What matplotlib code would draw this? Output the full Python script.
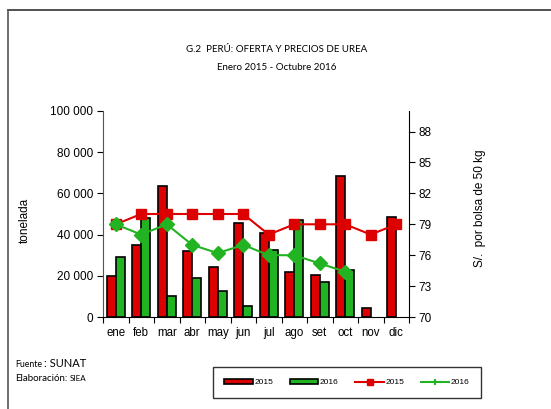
import numpy as np
import matplotlib.pyplot as plt
from matplotlib.patches import Patch
from matplotlib.lines import Line2D
from matplotlib.ticker import FuncFormatter

months = ["ene", "feb", "mar", "abr", "may", "jun", "jul", "ago", "set", "oct", "nov", "dic"]
oferta_2015 = [20000, 35000, 63700, 32000, 24100, 45500, 40900, 21800, 20200, 68600, 4200, 48400]
oferta_2016 = [29300, 48200, 10200, 18800, 12800, 5500, 32700, 47100, 17100, 23000]
precio_2015 = [79, 80, 80, 80, 80, 80, 78, 79, 79, 79, 78, 79]
precio_2016 = [79, 78, 79, 77, 76.2, 77, 76, 76, 75.2, 74.4]

RED = "#dd0000"
GREEN = "#22b322"
ARIAL = "Liberation Sans"
CALIBRI = "Lato"

fig = plt.figure(figsize=(5.51, 4.09), dpi=100)
ax = fig.add_axes([103/551, 1-317/409, 306/551, 206/409])

x = np.arange(len(months))
w = 0.35
ax.bar(x[:len(oferta_2015)] - w/2, oferta_2015, w, color=RED, edgecolor="black", linewidth=1.2)
ax.bar(x[:len(oferta_2016)] + w/2, oferta_2016, w, color=GREEN, edgecolor="black", linewidth=1.2)

ax.set_xlim(-0.5, 11.5)
ax.set_ylim(0, 100000)
ax.set_yticks(np.arange(0, 100001, 20000))
ax.yaxis.set_major_formatter(FuncFormatter(lambda v, p: f"{int(v):,}".replace(",", " ")))
ax.set_xticks(np.arange(-0.5, 12, 1))
ax.set_xticklabels([])
ax.set_xticks(x, minor=True)
ax.set_xticklabels(months, minor=True, fontfamily=ARIAL, fontsize=8.3)
ax.tick_params(axis="x", which="minor", length=0, pad=7)
ax.tick_params(axis="x", which="major", length=4, direction="out")
ax.tick_params(axis="y", length=4, direction="out", labelsize=8.5, pad=3)
for t in ax.get_yticklabels():
    t.set_fontfamily(ARIAL)
ax.spines["top"].set_visible(False)
ax.spines["right"].set_visible(False)
ax.spines["left"].set_color("#555555")
ax.set_ylabel("tonelada", fontfamily=ARIAL, fontsize=8.5)
ax.yaxis.set_label_coords((31 - 103) / 306, 0.47)

ax2 = ax.twinx()
ax2.plot(x[:len(precio_2015)], precio_2015, color=RED, lw=1.5, marker="s", ms=6.5)
ax2.plot(x[:len(precio_2016)], precio_2016, color=GREEN, lw=1.5, marker="D", ms=7)
ax2.set_ylim(70, 90)
ax2.set_yticks(np.arange(70, 89, 3))
ax2.tick_params(axis="y", length=4, direction="out", labelsize=8.5, pad=3)
for t in ax2.get_yticklabels():
    t.set_fontfamily(ARIAL)
for s in ["top", "left", "bottom"]:
    ax2.spines[s].set_visible(False)
ax2.set_ylabel("S/.  por bolsa de 50 kg", fontfamily=ARIAL, fontsize=8.5, rotation=90)
ax2.yaxis.set_label_coords((474 - 103) / 306, 0.53)

fig.text(277/551, 1-50/409, "G.2  PERÚ: OFERTA Y PRECIOS DE UREA", ha="center", va="center",
         fontfamily=CALIBRI, fontsize=7.0)
fig.text(277/551, 1-68/409, "Enero 2015 - Octubre 2016", ha="center", va="center",
         fontfamily=CALIBRI, fontsize=7.0)

fig.text(15/551, 1-367/409, "Fuente", ha="left", va="baseline", fontfamily=CALIBRI, fontsize=6.3)
fig.text(44/551, 1-367/409, ": SUNAT", ha="left", va="baseline", fontfamily=CALIBRI, fontsize=8)
fig.text(15/551, 1-381/409, "Elaboración:", ha="left", va="baseline", fontfamily=CALIBRI, fontsize=7)
fig.text(69.5/551, 1-381/409, "SIEA", ha="left", va="baseline", fontfamily=CALIBRI, fontsize=5.8)

handles = [
    Patch(facecolor=RED, edgecolor="black", linewidth=1.2),
    Patch(facecolor=GREEN, edgecolor="black", linewidth=1.2),
    Line2D([], [], color=RED, lw=1.5, marker="s", ms=5),
    Line2D([], [], color=GREEN, lw=1.5, marker="+", ms=4, mew=1.5),
]
leg = fig.legend(handles, ["2015", "2016", "2015", "2016"], ncol=4,
                 loc="center", bbox_to_anchor=(347/551, 1-382.5/409),
                 prop={"family": ARIAL, "size": 6}, frameon=True, fancybox=False,
                 edgecolor="black", handlelength=3.4, handleheight=0.6,
                 columnspacing=2.0, handletextpad=0.2, borderpad=1.4)
leg.get_frame().set_linewidth(1.0)

# outer frame (top and left edges visible)
fig.add_artist(Line2D([8/551, 1], [1-10/409, 1-10/409], color="#333333", lw=1.2))
fig.add_artist(Line2D([8/551, 8/551], [0, 1-10/409], color="#555555", lw=1.2))

fig.savefig("out.png", dpi=100)
